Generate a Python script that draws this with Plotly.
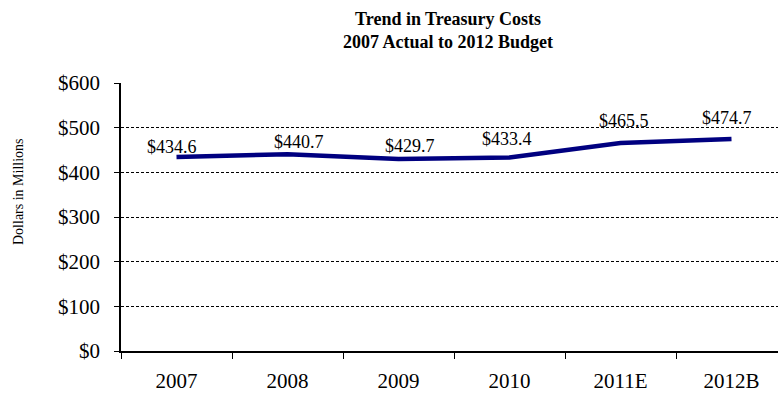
import plotly.graph_objects as go

years = ["2007", "2008", "2009", "2010", "2011E", "2012B"]
costs = [434.6, 440.7, 429.7, 433.4, 465.5, 474.7]
label_text = ["$434.6", "$440.7", "$429.7", "$433.4", "$465.5", "$474.7"]
y_ticks = [0, 100, 200, 300, 400, 500, 600]
y_tick_text = ["$0", "$100", "$200", "$300", "$400", "$500", "$600"]

# label offsets (pixels) to mimic the original placement
label_dx = [-5, 11, 11, -3, 3, -5]
label_dy = [10, 12, 13, 18, 22, 21]

serif = "Liberation Serif, Times New Roman, serif"

W, H = 778, 394
L, R, T, B = 121, 0, 83, 43
pw, ph = W - L - R, H - T - B

fig = go.Figure()
fig.add_trace(go.Scatter(
    x=years, y=costs, mode="lines",
    line=dict(color="#000080", width=4.5),
    hoverinfo="skip", showlegend=False,
))

for i, (y, t, dx, dy) in enumerate(zip(costs, label_text, label_dx, label_dy)):
    fig.add_annotation(x=i, y=y, xref="x", yref="y", text=t, showarrow=False,
                       xshift=dx, yshift=dy,
                       font=dict(family=serif, size=18, color="black"))

# title
fig.add_annotation(
    text="<b>Trend in Treasury Costs<br>2007 Actual to 2012 Budget</b>",
    xref="paper", yref="paper",
    x=(448 - L) / pw, y=1 + (T - 30) / ph,
    xanchor="center", yanchor="middle", showarrow=False,
    font=dict(family=serif, size=18, color="black"),
)
# y-axis title
fig.add_annotation(
    text="Dollars in Millions", textangle=-90,
    xref="paper", yref="paper",
    x=(18 - L) / pw, y=(H - B - 192) / ph,
    xanchor="center", yanchor="middle", showarrow=False,
    font=dict(family=serif, size=14, color="black"),
)

fig.update_layout(
    width=W, height=H,
    margin=dict(l=L, r=R, t=T, b=B),
    paper_bgcolor="white", plot_bgcolor="white",
    font=dict(family=serif, color="black"),
)

fig.update_xaxes(
    type="category",
    tickson="boundaries", ticks="outside", ticklen=6, tickcolor="black",
    tickwidth=1,
    showline=True, linecolor="black", linewidth=1.5,
    showgrid=False,
    tickfont=dict(family=serif, size=21, color="black"),
    ticklabelstandoff=10,
    range=[-0.5, -0.5 + pw / 111],
)
fig.update_yaxes(
    range=[0, 600], tickvals=y_ticks, ticktext=y_tick_text,
    ticks="outside", ticklen=5, tickcolor="black",
    showline=True, linecolor="black", linewidth=1.5,
    showgrid=True, gridcolor="black", gridwidth=1, griddash="3px,2px",
    zeroline=False,
    tickfont=dict(family=serif, size=21, color="black"),
    ticklabelstandoff=10,
)

fig.write_html("out.html")
